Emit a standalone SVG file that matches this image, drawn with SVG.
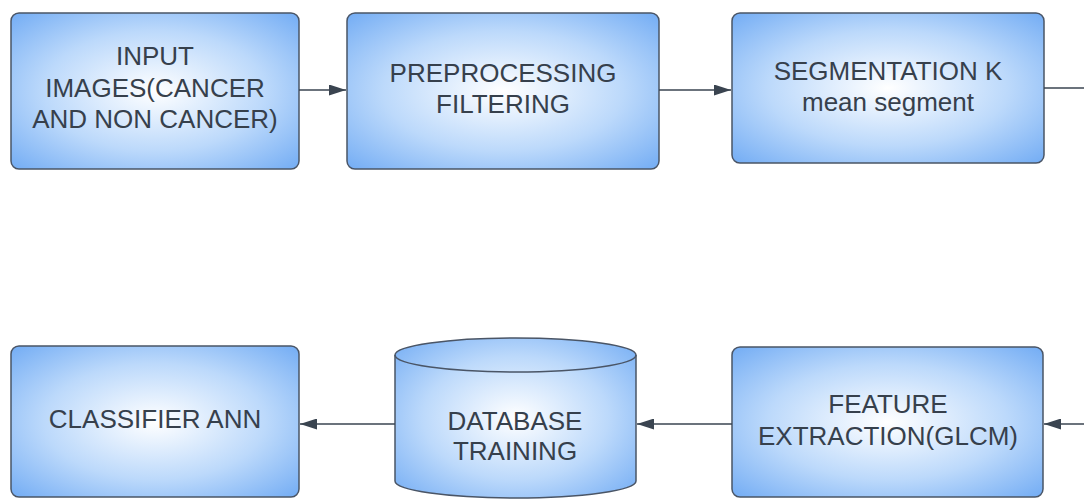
<svg xmlns="http://www.w3.org/2000/svg" width="1084" height="500" viewBox="0 0 1084 500">
<defs>
<radialGradient id="g" cx="50%" cy="50%" r="70%">
<stop offset="0" stop-color="#ffffff"/>
<stop offset="0.55" stop-color="#bcd9fb"/>
<stop offset="1" stop-color="#74adf4"/>
</radialGradient>
<marker id="ah" viewBox="0 0 17 11" refX="17" refY="5.5" markerWidth="17" markerHeight="11" markerUnits="userSpaceOnUse" orient="auto">
<path d="M0,0 L17,5.5 L0,11 Z" fill="#3a4450"/>
</marker>
</defs>
<style>
.box{fill:url(#g);stroke:#4a5566;stroke-width:1.5}
.t{font-family:"Liberation Sans",Arial,sans-serif;font-size:26px;fill:#36404c;text-anchor:middle}
.c{fill:none;stroke:#3a4450;stroke-width:1.3}
</style>
<rect width="1084" height="500" fill="#ffffff"/>
<g id="n1"><rect class="box" x="11" y="13" width="288" height="156" rx="8"/>
<text class="t" x="155" y="65">INPUT</text><text class="t" x="155" y="97">IMAGES(CANCER</text><text class="t" x="155" y="128">AND NON CANCER)</text></g>
<g id="n2"><rect class="box" x="347" y="13" width="312" height="156" rx="8"/>
<text class="t" x="503" y="82">PREPROCESSING</text><text class="t" x="503" y="113">FILTERING</text></g>
<g id="n3"><rect class="box" x="732" y="13" width="312" height="150" rx="8"/>
<text class="t" x="888" y="80">SEGMENTATION K</text><text class="t" x="888" y="111">mean segment</text></g>
<g id="n4"><rect class="box" x="732" y="347" width="311" height="150" rx="8"/>
<text class="t" x="888" y="413">FEATURE</text><text class="t" x="888" y="445">EXTRACTION(GLCM)</text></g>
<g id="n5"><path class="box" d="M395,355 A120.5,17 0 0 1 636,355 L636,481 A120.5,17 0 0 1 395,481 Z"/>
<path d="M395,355 A120.5,17 0 0 0 636,355" fill="none" stroke="#4a5566" stroke-width="1.5"/>
<text class="t" x="515" y="430">DATABASE</text><text class="t" x="515" y="460">TRAINING</text></g>
<g id="n6"><rect class="box" x="11" y="346" width="288" height="151" rx="8"/>
<text class="t" x="155" y="428">CLASSIFIER ANN</text></g>
<g id="connectors">
<line class="c" x1="299" y1="90" x2="346" y2="90" marker-end="url(#ah)"/>
<line class="c" x1="659" y1="90" x2="731" y2="90" marker-end="url(#ah)"/>
<line class="c" x1="1044" y1="88" x2="1084" y2="88"/>
<line class="c" x1="1084" y1="424" x2="1044" y2="424" marker-end="url(#ah)"/>
<line class="c" x1="732" y1="424" x2="637" y2="424" marker-end="url(#ah)"/>
<line class="c" x1="395" y1="424" x2="300" y2="424" marker-end="url(#ah)"/>
</g>
</svg>
